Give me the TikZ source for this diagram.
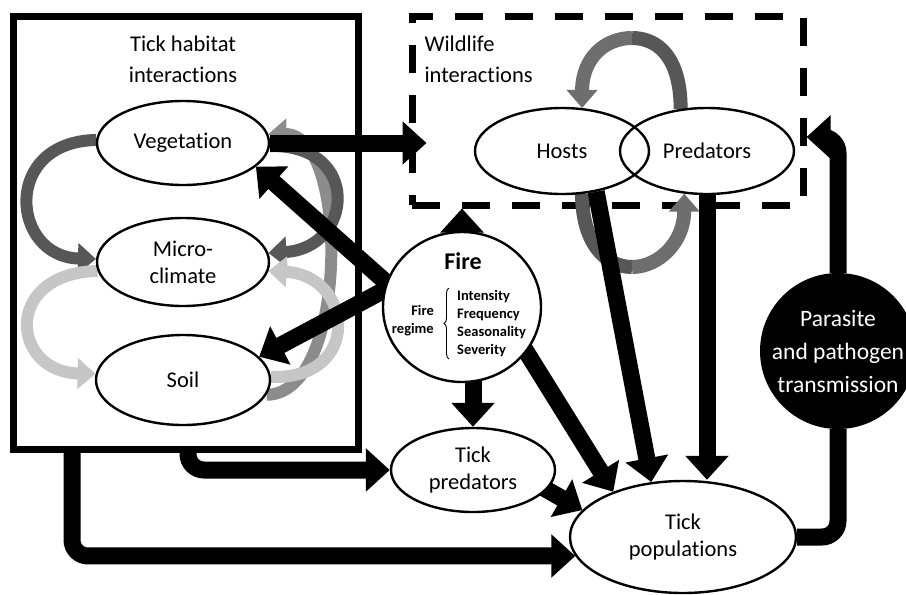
\documentclass[tikz,border=0pt]{standalone}
\usepackage{fontspec}
\setmainfont{Carlito}[Ligatures={NoCommon,NoContextual}]
\usetikzlibrary{shapes.geometric,arrows.meta,backgrounds,calc,decorations.pathreplacing}

\definecolor{darkgrey}{HTML}{575757}
\definecolor{midgrey}{HTML}{8C8C8C}
\definecolor{lightgrey}{HTML}{C6C6C6}
\definecolor{wildgrey}{HTML}{6E6E6E}

\tikzset{
  blob/.style={ellipse, draw, line width=2.4pt, fill=white, inner sep=0pt, align=center,
    font=\fontsize{22.5}{27}\selectfont},
  label/.style={font=\fontsize{22.5}{31}\selectfont},
  small/.style={font=\bfseries\fontsize{14.5}{18}\selectfont, inner sep=0pt},
  blk/.style={line width=17pt, -{Triangle[width=42pt,length=24pt]}},
  swirl/.style={line width=12pt, -{Triangle[width=30pt,length=18pt]}},
}

\begin{document}
\begin{tikzpicture}[x=1pt,y=-1pt]
\useasboundingbox (0,0) rectangle (906,595);

% habitat ellipses
\node[blob, minimum width=172pt, minimum height=84pt] (veg) at (183,143) {Vegetation};
\node[blob, minimum width=172pt, minimum height=88pt] (micro) at (183,262) {Micro-\\climate};
\node[blob, minimum width=174pt, minimum height=90pt] (soil) at (183,380) {Soil};
\node[label, align=center] (habtitle) at (183,59) {Tick habitat\\interactions};

% wildlife
\node[blob, minimum width=174pt, minimum height=86pt] (hosts) at (562,151) {Hosts};
\node[blob, fill=none, minimum width=174pt, minimum height=86pt] (pred) at (707,151) {Predators};
\node[label, align=left, anchor=west] (wildtitle) at (421,59) {Wildlife\\interactions};
\coordinate (wtop) at (632,38);
\coordinate (wbot) at (632,267);

% fire
\node[blob, minimum width=158pt, minimum height=150pt] (fire) at (462,307) {};
\node[font=\bfseries\fontsize{24}{28}\selectfont] (firetitle) at (463,261) {Fire};
\node[small, align=right, anchor=east] (regime) at (434,321) {Fire\\regime};
\node[small, align=left, anchor=west] (traits) at (457,323.5) {Intensity\\Frequency\\Seasonality\\Severity};
\draw[line width=0.9pt, decorate, decoration={brace, amplitude=5pt}]
  ([xshift=-8pt,yshift=-2pt]traits.south west) -- ([xshift=-8pt,yshift=2pt]traits.north west);

% ticks
\node[blob, minimum width=164pt, minimum height=84pt] (tickpred) at (473,470) {Tick\\predators};
\node[blob, minimum width=226pt, minimum height=112pt] (tickpop) at (683,537) {Tick\\populations};
\node[circle, fill=black, minimum size=156pt, inner sep=0pt, text=white, align=center,
  font=\fontsize{23.5}{33}\selectfont] (para) at (838,351) {Parasite\\and pathogen\\transmission};

\begin{scope}[on background layer]
  \node[draw, line width=7pt, minimum width=345pt, minimum height=433pt] (habitat) at (186,232.5) {};
  \node[draw, line width=7pt, dash pattern=on 28pt off 22pt, minimum width=391pt,
    minimum height=189pt] (wild) at (607.5,110.5) {};

  % grey loops inside the habitat box
  \draw[swirl, darkgrey] (veg.178) .. controls +(-95,2) and +(-85,-2) .. (micro.178);
  \draw[swirl, lightgrey] (micro.186) .. controls +(-95,2) and +(-85,-2) .. (soil.176);
  \draw[swirl, midgrey] (soil.-10) .. controls +(82,0) and +(82,0) .. (veg.6);
  \draw[swirl, darkgrey] (veg.-2) .. controls +(92,-2) and +(85,-5) .. (micro.6);
  \draw[swirl, lightgrey] (soil.2) .. controls +(92,3) and +(85,4) .. (micro.-6);

  % grey loops between hosts and predators
  \draw[line width=14pt, darkgrey] (pred.122) .. controls +(0,-50) and +(27,0) .. (wtop);
  \draw[swirl, line width=14pt, wildgrey] (wtop) .. controls +(-27,0) and +(0,-50) .. (hosts.65);
  \draw[line width=14pt, darkgrey] (hosts.-65) .. controls +(0,48) and +(-27,0) .. (wbot);
  \draw[swirl, line width=14pt, wildgrey] (wbot) .. controls +(27,0) and +(0,48) .. (pred.-118);

  % black arrows
  \draw[blk] (veg.east) -- ($(wild.west |- veg.east)+(18,0)$);
  \draw[blk, shorten <=-10pt] (fire.162) -- (veg.-18);
  \draw[blk, shorten <=-10pt] (fire.168) -- (soil.17);
  \draw[blk] (fire.north) -- (fire.north |- wild.south);
  \draw[blk, shorten <=-6pt] (fire.south -| tickpred.north) -- (tickpred.north);
  \draw[blk, shorten <=-6pt] (fire.-35) -- (tickpop.147);
  \draw[blk] (hosts.-50) -- (tickpop.120);
  \draw[blk] (pred.south) -- (pred.south |- tickpop.north);
  \draw[blk, shorten <=-6pt] (tickpred.-15) -- (tickpop.165);
  \draw[blk, rounded corners=16pt] ([xshift=178pt,yshift=4pt]habitat.south west) |- (tickpred.west);
  \draw[blk, rounded corners=16pt] ([xshift=62pt,yshift=4pt]habitat.south west) |- (tickpop.190);
  \draw[blk, rounded corners=16pt] (para.north) |- ($(wild.east)+(0,26.5)$);
  \draw[line width=17pt, rounded corners=16pt] (tickpop.east) -| (para.south);
\end{scope}
\end{tikzpicture}
\end{document}
